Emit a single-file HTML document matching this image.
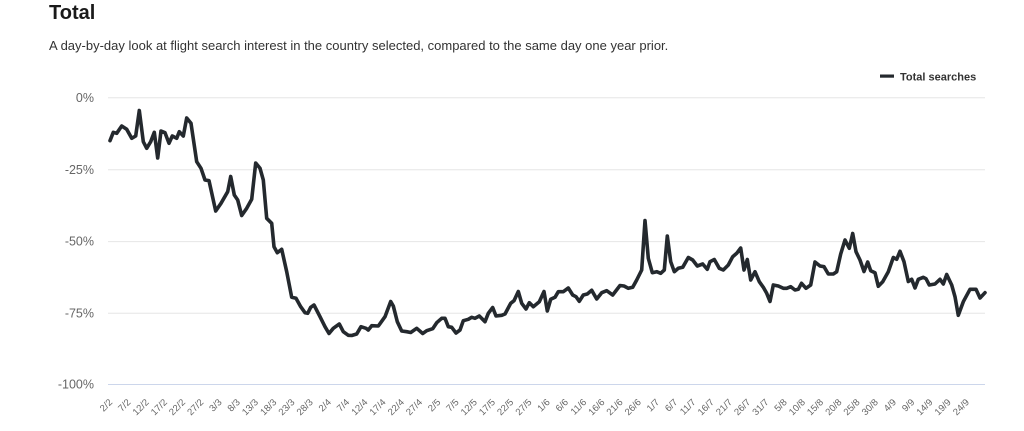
<!DOCTYPE html>
<html><head><meta charset="utf-8"><style>
html,body{margin:0;padding:0;background:#fff;}
svg{display:block;font-family:"Liberation Sans",Arial,sans-serif;}
</style></head><body>
<svg width="1024" height="431" viewBox="0 0 1024 431" xmlns="http://www.w3.org/2000/svg">
<rect width="1024" height="431" fill="#fff"/>
<text x="49" y="19" font-size="20" font-weight="bold" fill="#1a1a1a">Total</text>
<text x="49" y="50" font-size="13" fill="#333">A day-by-day look at flight search interest in the country selected, compared to the same day one year prior.</text>
<rect x="880" y="74.5" width="14" height="3.2" fill="#24292e"/>
<text x="900" y="80.7" font-size="11" font-weight="bold" fill="#333">Total searches</text>
<g stroke="#e6e6e6" stroke-width="1">
<line x1="108" y1="97.7" x2="985" y2="97.7"/>
<line x1="108" y1="169.8" x2="985" y2="169.8"/>
<line x1="108" y1="241.6" x2="985" y2="241.6"/>
<line x1="108" y1="313.2" x2="985" y2="313.2"/>
</g>
<line x1="108" y1="384.5" x2="985" y2="384.5" stroke="#ccd6eb" stroke-width="1"/>
<g font-size="12.5" fill="#666" text-anchor="end">
<text x="94" y="101.8">0%</text>
<text x="94" y="173.9">-25%</text>
<text x="94" y="245.7">-50%</text>
<text x="94" y="317.3">-75%</text>
<text x="94" y="388.6">-100%</text>
</g>
<g font-size="9.5" fill="#666" text-anchor="end" id="xl"></g>
<polyline fill="none" stroke="#24292e" stroke-width="3.6" stroke-linejoin="round" stroke-linecap="round" points="
110,140.7 113.3,132.3 116.7,133.3 121.7,126 126.7,129.3 131.7,138.3 135.7,136 139.3,110.5 143.3,141.7 146.7,148.3 150.7,141.7 154.3,132.3 157.7,158 161,131 165,132.7 169,143.3 172.3,136 176.7,138.3 179.3,131.7 183.3,136 186.7,118 191,123.3 196.7,161.7 201,168.3 205,180 209,180.7 215.7,211 221,203.3 227.7,191.7 230.7,176.5 234.3,195 237.7,200 241.7,215.5 246.7,208.3 251.7,199.3 255.7,163 260,168.3 263.3,180 266.7,218.3 271.7,223.3
274,246.7 277.3,252.7 281.7,249.3 286.7,271.7 291.7,297.3 296,298.3 300.7,306.7 305,312.7 307.7,313.3 310.7,307.3 314,305 320,316.7 325,326.7 329,333.5 333.3,328.3 339.3,324 343.3,331.7 348.3,335.3 351.7,335.5 356.7,334 361,326.7 366,328.3 368.3,330 371.7,325.7 378.3,326 385,316.7 390.7,301.5 393.3,306 397.3,321.7 401.7,331 406.7,331.7 410.7,332.5 416.7,328.3 422.7,333.5 426.7,330.7 432.7,328.7 436.7,322.7 441.7,318.3 445,318.3
448.3,326.7 451.7,327.3 456,333 460,330 463.3,320.7 468.3,319.3 471.7,317.3 475,318.3 479.3,316 485,321.7 488.3,313.3 492.7,307.5 496,316 501.7,315.3 505,314 510.7,303.3 514,300.7 518.3,291.5 521.7,303.3 526,309 529.3,302.7 533.3,306.7 539.3,301.7 544,291.5 547.3,311 550.7,299.3 555,297.3 558.3,291.7 563.3,291.7 568.3,288 572.7,295 576,296.7 579.3,301.3 583.3,295 587.3,294 591.7,290.3 596.7,299 601.7,292.7 606.7,290.7 612.7,295 620,285.5
624,286 628.3,288.3 632.7,287.3 636.7,280 641.7,270 645,220.5 648.3,258.3 652.3,272.7 656.7,271.7 660.7,273.3 664.3,270 667.3,236 670.7,261.7 674.3,271.7 678.3,268.3 682.7,267.3 688.3,257.5 692.7,260 697.3,266 702.7,264 707.3,269.3 710,261.7 714.3,259.5 719.3,268.3 723.3,270 728.3,265 732.7,256.7 736.7,253.3 740.7,248 744,270 747.3,259.5 750.7,280 755,271.7 759.3,281.7 763.3,287.3 766.7,293.3 770,301.5 773.3,285 778.3,286 783.3,288.3 786.7,288.3 790.7,286.7 795,290 798.3,289.3 801.5,283.3 806,288.3
810.7,285 815,262 820,266 824,266.7 828.3,274 833.3,274 836.7,271.7 840.7,254 845,240 849.3,248.3 852.7,233.5 856,251.7 860,260 864,271.5 867.7,262 870.7,270.7 875,272.7 878.3,286.3 882.7,281.7 888.3,271.7 893.3,257.5 896.7,259.3 900,251.3 904,261.7 908.3,281.5 911.7,279.3 915,288 918.3,279.3 923.3,277.3 926,278.7 929.3,285 935,284 940,279.3 943.3,284 946.7,274.5 951.7,285 955,296.7 958.3,315.3 963.3,301.7 970,289.3 976,289.3 980,298 985,292.7"/>
<script>
(function(){
var g=document.getElementById('xl');
var ns='http://www.w3.org/2000/svg';
var months=[[2,29],[3,31],[4,30],[5,31],[6,30],[7,31],[8,31],[9,30]];
var m=0,day=2;
for(var d=0;d<=235;d+=5){
  var x=110+d*3.6458+3;
  var y=402.8;
  var t=document.createElementNS(ns,'text');
  t.setAttribute('x',x.toFixed(1));
  t.setAttribute('y',y);
  t.setAttribute('transform','rotate(-45 '+x.toFixed(1)+' '+y+')');
  t.textContent=day+'/'+months[m][0];
  g.appendChild(t);
  day+=5;
  while(day>months[m][1]){day-=months[m][1];m++;}
}
})();
</script>
</svg>
</body></html>
